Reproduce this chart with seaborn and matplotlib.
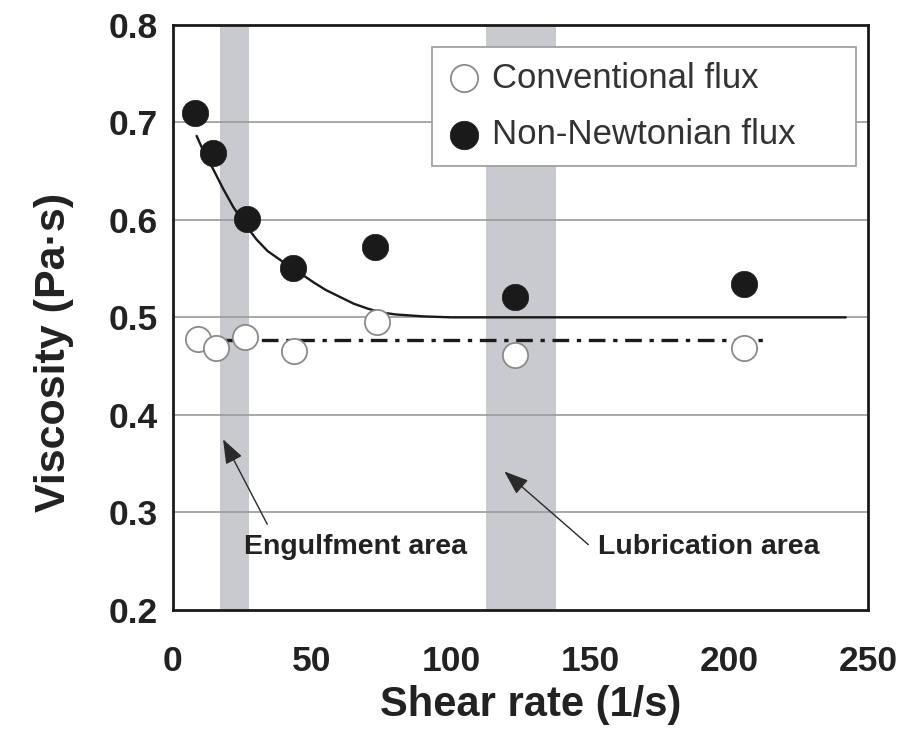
import numpy as np
import pandas as pd
import matplotlib
matplotlib.use("Agg")
import matplotlib.pyplot as plt
import seaborn as sns

# ---- data ----
conv_x = [9.0, 15.5, 26.0, 43.5, 73.5, 123.0, 205.5]
conv_y = [0.478, 0.469, 0.480, 0.465, 0.495, 0.461, 0.469]
nonnewt_x = [8.0, 14.5, 26.5, 43.0, 72.5, 123.0, 205.5]
nonnewt_y = [0.709, 0.668, 0.601, 0.551, 0.572, 0.521, 0.534]
fit_x = [8.5, 11.0, 13.9, 18.0, 21.7, 26.0, 30.0, 34.0, 39.0, 43.3, 50.5,
         55.0, 60.0, 65.0, 70.0, 75.0, 80.0, 90.0, 100.0, 110.0, 242.0]
fit_y = [0.686, 0.670, 0.655, 0.632, 0.613, 0.595, 0.580, 0.568, 0.558, 0.550, 0.536,
         0.528, 0.521, 0.514, 0.509, 0.505, 0.503, 0.501, 0.500, 0.500, 0.500]
conv_mean_x = [18.8, 214.8]
conv_mean_y = [0.477, 0.477]
band_engulf = [17.0, 27.5]
band_lubric = [112.6, 137.9]
xticks = [0, 50, 100, 150, 200, 250]
yticks = [0.2, 0.3, 0.4, 0.5, 0.6, 0.7, 0.8]
engulf_arrow = {"head": (18.0, 0.375), "tail": (33.9, 0.288), "text": (65.8, 0.2644)}
lubric_arrow = {"head": (119.2, 0.342), "tail": (149.4, 0.267), "text": (192.6, 0.2644)}

sns.set_theme(style="white")
plt.rcParams["font.family"] = ["Liberation Sans", "DejaVu Sans"]

fig = plt.figure(figsize=(9.12, 7.31), dpi=100)
ax = fig.add_axes([173/912, 1 - 610/731, (868-173)/912, (610-24.7)/731])

txt = "#222222"
band_col = "#c9cacf"

ax.axvspan(*band_engulf, color=band_col, lw=0, zorder=0)
ax.axvspan(*band_lubric, color=band_col, lw=0, zorder=0)
for yv in yticks[1:-1]:
    ax.axhline(yv, color="#9a9a9a", lw=1.2, zorder=1)

fit_df = pd.DataFrame({"x": fit_x, "y": fit_y})
sns.lineplot(data=fit_df, x="x", y="y", ax=ax, color="#1a1a1a", lw=1.7,
             sort=False, zorder=2, legend=False)
mean_df = pd.DataFrame({"x": conv_mean_x, "y": conv_mean_y})
sns.lineplot(data=mean_df, x="x", y="y", ax=ax, color="#1a1a1a", lw=2.4,
             linestyle=(0, (5.0, 2.3, 1.3, 2.3)), zorder=2, legend=False)

sns.scatterplot(x=conv_x, y=conv_y, ax=ax, s=330, color="white",
                edgecolor="#8a8a8a", linewidth=1.3, zorder=4,
                label="Conventional flux")
sns.scatterplot(x=nonnewt_x, y=nonnewt_y, ax=ax, s=360, color="#1a1a1a",
                edgecolor="#1a1a1a", linewidth=0.5, zorder=4,
                label="Non-Newtonian flux")

ax.set_xlim(0, 250)
ax.set_ylim(0.2, 0.8)
ax.set_xticks(xticks)
ax.set_yticks(yticks)
ax.set_xticklabels([str(v) for v in xticks])
ax.set_yticklabels([f"{v:.1f}" for v in yticks])
ax.tick_params(axis="x", direction="in", length=7, width=1, color="#999999",
               pad=25, labelsize=25.5, labelcolor=txt)
ax.tick_params(axis="y", direction="in", length=0, pad=11, labelsize=25.5,
               labelcolor=txt)
for lab in ax.get_xticklabels() + ax.get_yticklabels():
    lab.set_fontweight("bold")

for sp in ax.spines.values():
    sp.set_visible(True)
    sp.set_color("#1a1a1a")
    sp.set_linewidth(2.0)
    sp.set_zorder(5)

ax.set_xlabel("Shear rate (1/s)", fontsize=30, fontweight="bold", color=txt)
ax.set_ylabel("Viscosity (Pa·s)", fontsize=31, fontweight="bold", color=txt)
ax.xaxis.set_label_coords(0.514, -0.128)
ax.yaxis.set_label_coords(-0.1424, 0.44)

leg = ax.legend(loc="upper left", bbox_to_anchor=(0.3727, 0.764, 0.983-0.3727, 0.962-0.764),
                mode="expand", borderaxespad=0, fontsize=25, frameon=True,
                fancybox=False, edgecolor="#9a9a9a", framealpha=1,
                handlelength=1.0, handletextpad=0.3, borderpad=0.42,
                labelspacing=0.68, markerscale=1.08)
leg.get_frame().set_linewidth(1.2)
for t in leg.get_texts():
    t.set_color("#333333")
leg.set_zorder(6)

for d, label in ((engulf_arrow, "Engulfment area"), (lubric_arrow, "Lubrication area")):
    ax.annotate("", xy=d["head"], xytext=d["tail"],
                arrowprops=dict(arrowstyle="-|>,head_length=0.75,head_width=0.28",
                                mutation_scale=20, color="#2a2a2a", lw=1.0,
                                shrinkA=0, shrinkB=0), zorder=3)
    ax.text(*d["text"], label, fontsize=20.5, fontweight="bold", color=txt,
            ha="center", va="center", zorder=3)

fig.savefig("out.png", dpi=100)
